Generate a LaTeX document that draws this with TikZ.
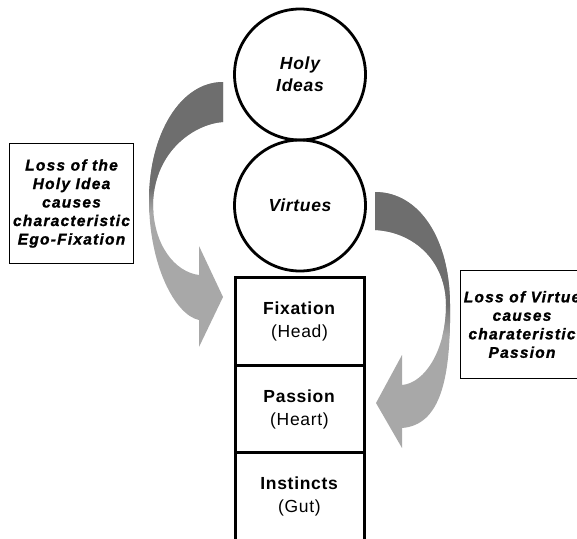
\documentclass[tikz,border=0pt]{standalone}
\usepackage{fontspec}
\setmainfont{Liberation Sans}[LetterSpace=4]
\newfontfamily\notefont{Liberation Sans}[LetterSpace=8, BoldItalicFeatures={FakeBold=1.2}]
\usepackage{tikz}
\usetikzlibrary{shapes,calc,positioning}
\definecolor{darkarrow}{RGB}{110,110,110}
\definecolor{lightarrow}{RGB}{168,168,168}
\tikzstyle{ring} = [draw, circle, line width=2.8pt, minimum size=131pt, inner sep=0pt, outer sep=0pt, align=center, font=\fontsize{17.5}{22}\selectfont\bfseries\itshape]
\tikzstyle{level} = [draw, rectangle, line width=3pt, minimum width=129pt, minimum height=87.5pt, outer sep=0pt, align=center, font=\fontsize{17.5}{23}\selectfont]
\tikzstyle{note} = [draw, rectangle, line width=1.2pt, align=center, font=\notefont\fontsize{15.5}{18.5}\selectfont\bfseries\itshape]
% outlines of the two curved block arrows
\newcommand{\leftcurl}{(223,82) .. controls (180,82) and (149,135) .. (149,200) .. controls (149,265) and (175,315) .. (199,320) -- (199,347) -- (223,297) -- (199,246) -- (199,275) .. controls (175,272) and (153,245) .. (153,203) .. controls (155,150) and (195,124) .. (223,122) -- cycle}
\newcommand{\rightcurl}{(375,192) .. controls (420,192) and (450,240) .. (450,305) .. controls (451,380) and (440,425) .. (402,428) -- (402,448) -- (376,403) -- (402,355) -- (402,385) .. controls (425,383) and (446,350) .. (446,305) .. controls (446,262) and (415,232) .. (375,230) -- cycle}

\begin{document}
\begin{tikzpicture}[x=1pt,y=-1pt]
  \useasboundingbox (0,0) rectangle (577,538);
  % arrows
  \fill[lightarrow] \leftcurl;
  \begin{scope}
    \clip \leftcurl;
    \fill[darkarrow] (100,0) rectangle (260,188);
    \shade[top color=darkarrow, bottom color=lightarrow] (100,188) rectangle (260,212);
  \end{scope}
  \fill[lightarrow] \rightcurl;
  \begin{scope}
    \clip \rightcurl;
    \fill[darkarrow] (360,150) rectangle (470,305);
    \shade[top color=darkarrow, bottom color=lightarrow] (360,305) rectangle (470,335);
  \end{scope}
  % circles and levels
  \node[ring] (holy) at (300,74.5) {Holy\\Ideas};
  \node[ring, below=0pt of holy] (virt) {Virtues};
  \node[level] (fix) at (299.5,321.5) {\textbf{Fixation}\\(Head)};
  \node[level, below=0pt of fix] (pas) {\textbf{Passion}\\(Heart)};
  \node[level, below=0pt of pas] (inst) {\textbf{Instincts}\\(Gut)};
  % notes
  \node[note, minimum width=118pt, minimum height=120pt] (idealoss) at (71.5,203.5) {Loss of the\\Holy Idea\\causes\\characteristic\\Ego-Fixation};
  \node[note, minimum width=112pt, minimum height=108pt] (virtloss) at (522,324.5) {Loss of Virtue\\causes\\charateristic\\Passion};
\end{tikzpicture}
\end{document}
